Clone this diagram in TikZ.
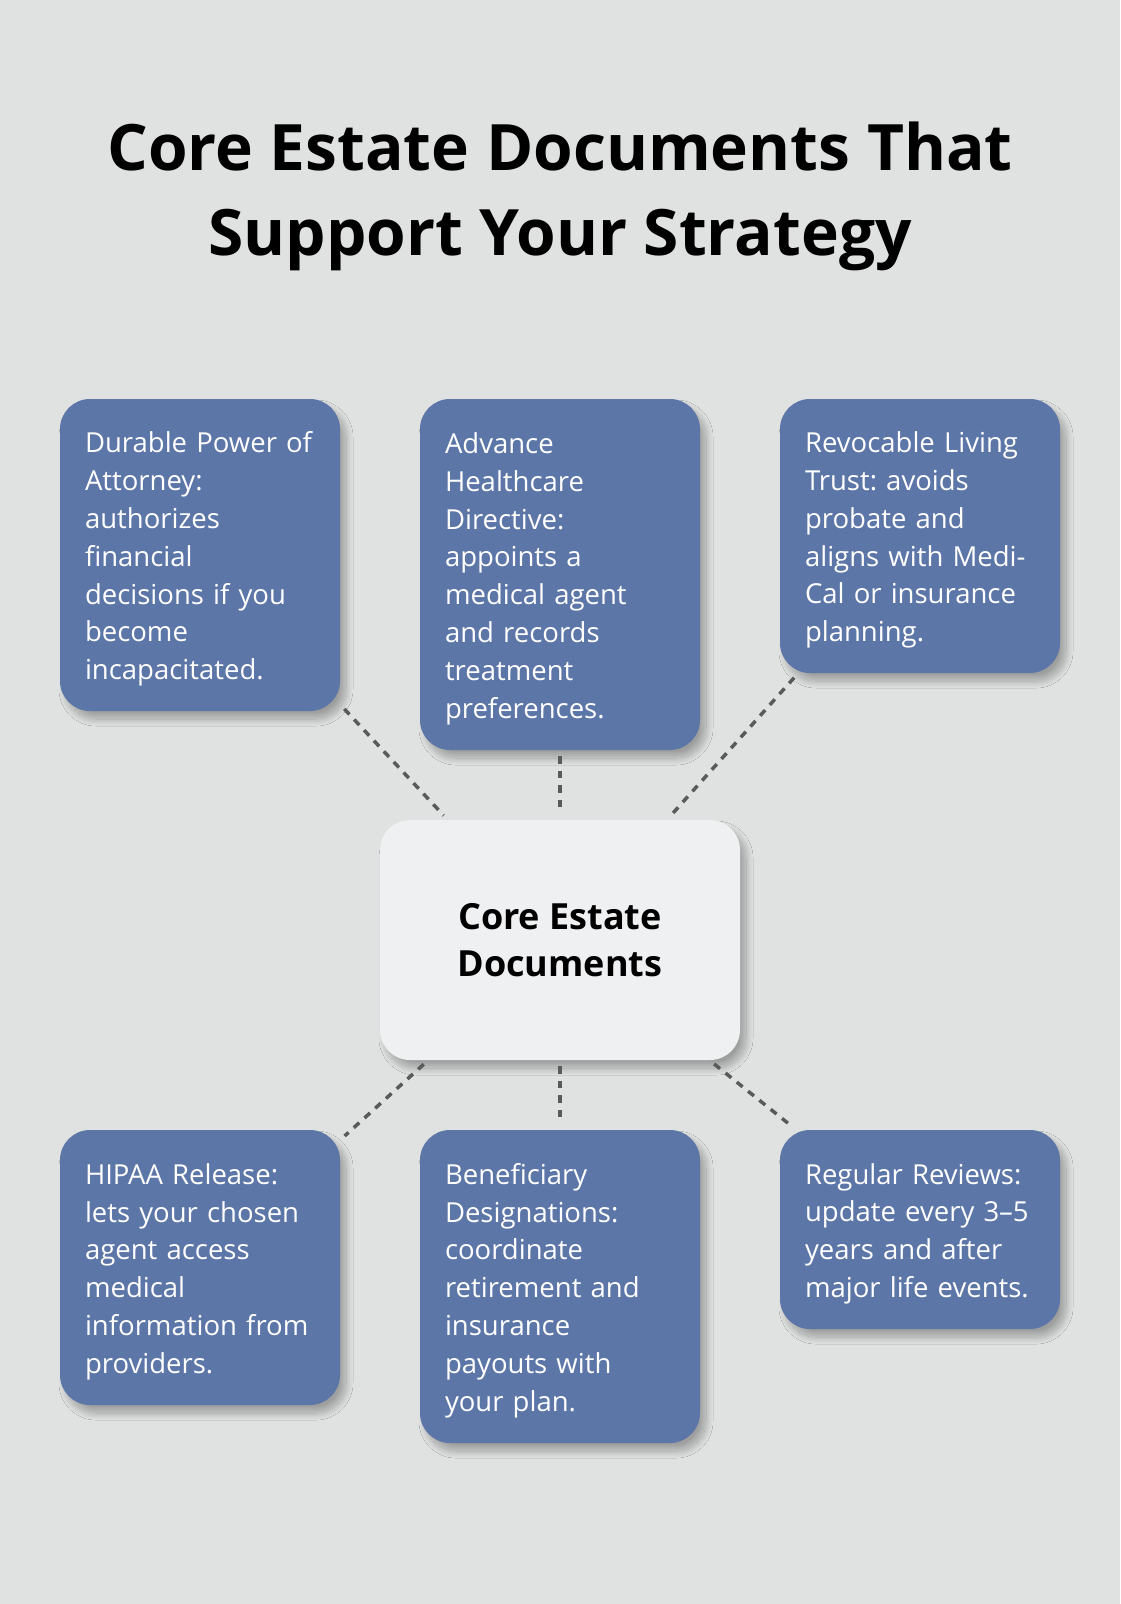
\documentclass[tikz,border=0pt]{standalone}
\usepackage{fontspec}
\setmainfont{Open Sans}
\usetikzlibrary{shadows.blur}
\definecolor{bgc}{HTML}{E0E2E1}
\definecolor{boxblue}{HTML}{5D76A8}
\definecolor{centerc}{HTML}{EFF0F2}
\definecolor{dashc}{HTML}{5A5A5A}
\frenchspacing
\begin{document}
\begin{tikzpicture}[x=1pt,y=-1pt,
  softshadow/.style={blur shadow={shadow xshift=6pt, shadow yshift=-8pt, shadow blur radius=7pt, shadow blur steps=20, shadow opacity=30}},
  docbox/.style={rounded corners=30pt, fill=boxblue, text=white, text width=230pt,
    align=left, inner xsep=25pt, inner ysep=0pt, minimum width=280pt,
    font=\fontsize{27.5}{37.8}\selectfont\frenchspacing,
    execute at begin node={\rule{0pt}{29pt}}, softshadow},
  corebox/.style={rounded corners=30pt, fill=centerc, text=black, align=center,
    minimum width=360pt, minimum height=240pt, inner sep=0pt,
    font=\fontsize{36}{47}\selectfont\bfseries, softshadow},
  link/.style={draw=dashc, line width=3.5pt, dash pattern=on 7.5pt off 7pt, shorten <=6pt, shorten >=6pt}
]
\fill[bgc] (0,0) rectangle (1120,1604);
\useasboundingbox (0,0) rectangle (1120,1604);

\node[font=\fontsize{64}{85}\selectfont\bfseries, align=center, text=black] (title) at (560,196)
  {Core Estate Documents That\\Support Your Strategy};

\node[docbox, minimum height=312pt] (b1) at (200,555)
  {Durable Power of\\Attorney:\\authorizes\\financial\\decisions if you\\become\\incapacitated.};
\node[docbox, minimum height=351pt] (b2) at (560,574.5)
  {Advance\\Healthcare\\Directive:\\appoints a\\medical agent\\and records\\treatment\\preferences.};
\node[docbox, minimum height=274pt] (b3) at (920,536)
  {Revocable Living\\Trust: avoids\\probate and\\aligns with Medi-\\Cal or insurance\\planning.};
\node[corebox] (c) at (560,940) {Core Estate\\Documents};
\node[docbox, minimum height=275pt] (b4) at (200,1267.5)
  {HIPAA Release:\\lets your chosen\\agent access\\medical\\information from\\providers.};
\node[docbox, minimum height=313pt] (b5) at (560,1286.5)
  {Beneficiary\\Designations:\\coordinate\\retirement and\\insurance\\payouts with\\your plan.};
\node[docbox, minimum height=199pt] (b6) at (920,1229.5)
  {Regular Reviews:\\update every 3–5\\years and after\\major life events.};

\draw[link] (b1) -- (c);
\draw[link] (b2) -- (c);
\draw[link] (b3) -- (c);
\draw[link] (c) -- (b4);
\draw[link] (c) -- (b5);
\draw[link] (c) -- (b6);
\end{tikzpicture}
\end{document}
